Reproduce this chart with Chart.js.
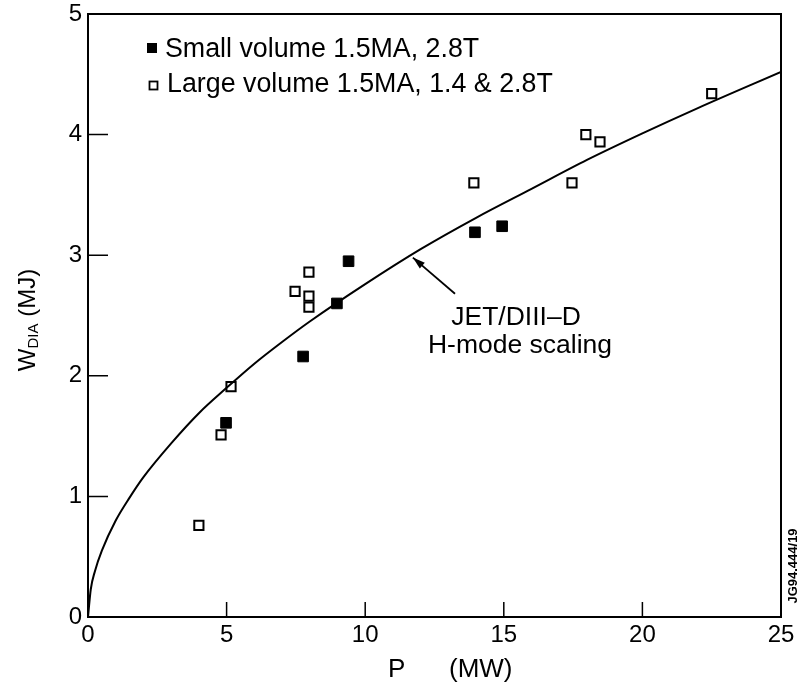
<!DOCTYPE html>
<html>
<head>
<meta charset="utf-8">
<script src="https://cdn.jsdelivr.net/npm/chart.js@4/dist/chart.umd.min.js"></script>
<style>
  html, body { margin: 0; padding: 0; background: #fff; }
  #wrap { width: 802px; height: 696px; }
</style>
</head>
<body>
<div id="wrap"><canvas id="wdiaChart" width="802" height="696"></canvas></div>
<script>
// Stored energy vs input power
const smallP = [4.98, 7.76, 8.98, 9.4, 13.96, 14.94];
const smallW = [1.61, 2.16, 2.60, 2.95, 3.19, 3.24];

const largeP = [4.0, 4.8, 5.16, 7.47, 7.97, 7.97, 7.97, 13.92, 17.46, 17.96, 18.47, 22.5];
const largeW = [0.76, 1.51, 1.91, 2.70, 2.86, 2.66, 2.57, 3.60, 3.60, 4.00, 3.94, 4.34];

// JET/DIII-D H-mode scaling curve
const curveP = [0, 0.1, 0.25, 0.5, 1, 1.5, 2, 3, 4, 5, 6, 7, 8, 10, 12, 14, 16, 18, 20, 22, 25];
const curveW = [0, 0.23, 0.38, 0.55, 0.80, 0.99, 1.16, 1.44, 1.69, 1.90, 2.10, 2.28, 2.45, 2.76, 3.05, 3.31, 3.55, 3.79, 4.01, 4.22, 4.52];

const xTicks = [0, 5, 10, 15, 20, 25];
const yTicks = [0, 1, 2, 3, 4, 5];

const legendLabels = ['Small volume 1.5MA, 2.8T', 'Large volume 1.5MA, 1.4 & 2.8T'];

const FONT = '"Liberation Sans", Arial, Helvetica, sans-serif';

function pts(xs, ys) {
  return xs.map((x, i) => ({ x: x, y: ys[i] }));
}

// frame, inward ticks, legend, titles and the annotation
const decorations = {
  id: 'decorations',
  afterDraw(chart) {
    const ctx = chart.ctx;
    const a = chart.chartArea;
    const xs = chart.scales.x;
    const ys = chart.scales.y;
    ctx.save();
    ctx.strokeStyle = '#000';
    ctx.fillStyle = '#000';

    // top and right frame lines
    ctx.lineWidth = 2;
    ctx.beginPath();
    ctx.moveTo(a.left, a.top);
    ctx.lineTo(a.right, a.top);
    ctx.lineTo(a.right, a.bottom);
    ctx.stroke();

    // tick marks pointing into the plot
    ctx.lineWidth = 1.5;
    ctx.beginPath();
    xTicks.slice(1, -1).forEach(v => {
      const px = xs.getPixelForValue(v);
      ctx.moveTo(px, a.bottom);
      ctx.lineTo(px, a.bottom - 15);
    });
    yTicks.slice(1, -1).forEach(v => {
      const py = ys.getPixelForValue(v);
      ctx.moveTo(a.left, py);
      ctx.lineTo(a.left + 20, py);
    });
    ctx.stroke();

    // legend
    ctx.font = '26.8px ' + FONT;
    ctx.textBaseline = 'alphabetic';
    ctx.textAlign = 'left';
    ctx.fillRect(147, 43, 10, 10);
    ctx.fillText(legendLabels[0], 165, 57);
    ctx.lineWidth = 1.8;
    ctx.strokeRect(149.5, 81.5, 8, 8);
    ctx.fillText(legendLabels[1], 167, 92);

    // annotation with arrow to the scaling curve
    const tipX = xs.getPixelForValue(11.72), tipY = ys.getPixelForValue(2.98);
    const tailX = xs.getPixelForValue(13.24), tailY = ys.getPixelForValue(2.68);
    ctx.lineWidth = 1.8;
    ctx.beginPath();
    ctx.moveTo(tailX, tailY);
    ctx.lineTo(tipX, tipY);
    ctx.stroke();
    const ang = Math.atan2(tipY - tailY, tipX - tailX);
    ctx.beginPath();
    ctx.moveTo(tipX, tipY);
    ctx.lineTo(tipX - 13 * Math.cos(ang - 0.3), tipY - 13 * Math.sin(ang - 0.3));
    ctx.lineTo(tipX - 13 * Math.cos(ang + 0.3), tipY - 13 * Math.sin(ang + 0.3));
    ctx.closePath();
    ctx.fill();

    ctx.textAlign = 'center';
    ctx.font = '26.5px ' + FONT;
    ctx.fillText('JET/DIII\u2013D', 516, 325);
    ctx.fillText('H-mode scaling', 520, 353);

    // x axis title
    ctx.textAlign = 'left';
    ctx.font = '26px ' + FONT;
    ctx.fillText('P', 388, 677);
    ctx.fillText('(MW)', 449, 677);

    // y axis title with subscript
    ctx.save();
    ctx.translate(35, 320);
    ctx.rotate(-Math.PI / 2);
    ctx.font = '24px ' + FONT;
    const wW = ctx.measureText('W').width;
    const restW = ctx.measureText(' (MJ)').width;
    ctx.font = '15px ' + FONT;
    const subW = ctx.measureText('DIA').width;
    let x0 = -(wW + subW + restW) / 2;
    ctx.textAlign = 'left';
    ctx.font = '24px ' + FONT;
    ctx.fillText('W', x0, 0);
    ctx.font = '15px ' + FONT;
    ctx.fillText('DIA', x0 + wW, 3);
    ctx.font = '24px ' + FONT;
    ctx.fillText(' (MJ)', x0 + wW + subW, 0);
    ctx.restore();

    // figure reference number
    ctx.save();
    ctx.translate(797, 566);
    ctx.rotate(-Math.PI / 2);
    ctx.textAlign = 'center';
    ctx.font = 'bold 13px ' + FONT;
    ctx.fillText('JG94.444/19', 0, 0);
    ctx.restore();

    ctx.restore();
  }
};

const ctx = document.getElementById('wdiaChart').getContext('2d');
const wdiaChart = new Chart(ctx, {
  type: 'scatter',
  data: {
    datasets: [
      {
        label: 'JET/DIII-D H-mode scaling',
        type: 'line',
        data: pts(curveP, curveW),
        borderColor: '#000',
        borderWidth: 2,
        pointRadius: 0,
        fill: false,
        cubicInterpolationMode: 'monotone'
      },
      {
        label: legendLabels[0],
        data: pts(smallP, smallW),
        pointStyle: 'rect',
        pointRadius: 7.5,
        backgroundColor: '#000',
        borderColor: '#000',
        borderWidth: 1
      },
      {
        label: legendLabels[1],
        data: pts(largeP, largeW),
        pointStyle: 'rect',
        pointRadius: 6.5,
        backgroundColor: '#fff',
        borderColor: '#000',
        borderWidth: 2
      }
    ]
  },
  options: {
    responsive: false,
    animation: false,
    layout: { padding: { top: 14, right: 21, left: 0, bottom: 0 } },
    plugins: {
      legend: { display: false },
      tooltip: { enabled: false }
    },
    scales: {
      x: {
        type: 'linear',
        min: 0,
        max: 25,
        afterBuildTicks: s => { s.ticks = xTicks.map(v => ({ value: v })); },
        afterFit: s => { s.height = 79; s.paddingLeft = 0; s.paddingRight = 0; },
        ticks: { color: '#000', font: { family: FONT, size: 24 }, padding: 4, maxRotation: 0 },
        grid: { drawOnChartArea: false, drawTicks: false },
        border: { color: '#000', width: 2 }
      },
      y: {
        type: 'linear',
        min: 0,
        max: 5,
        afterBuildTicks: s => { s.ticks = yTicks.map(v => ({ value: v })); },
        afterFit: s => { s.width = 88; s.paddingTop = 0; s.paddingBottom = 0; },
        ticks: { color: '#000', font: { family: FONT, size: 24 }, padding: 6 },
        grid: { drawOnChartArea: false, drawTicks: false },
        border: { color: '#000', width: 2 }
      }
    }
  },
  plugins: [decorations]
});
</script>
</body>
</html>
